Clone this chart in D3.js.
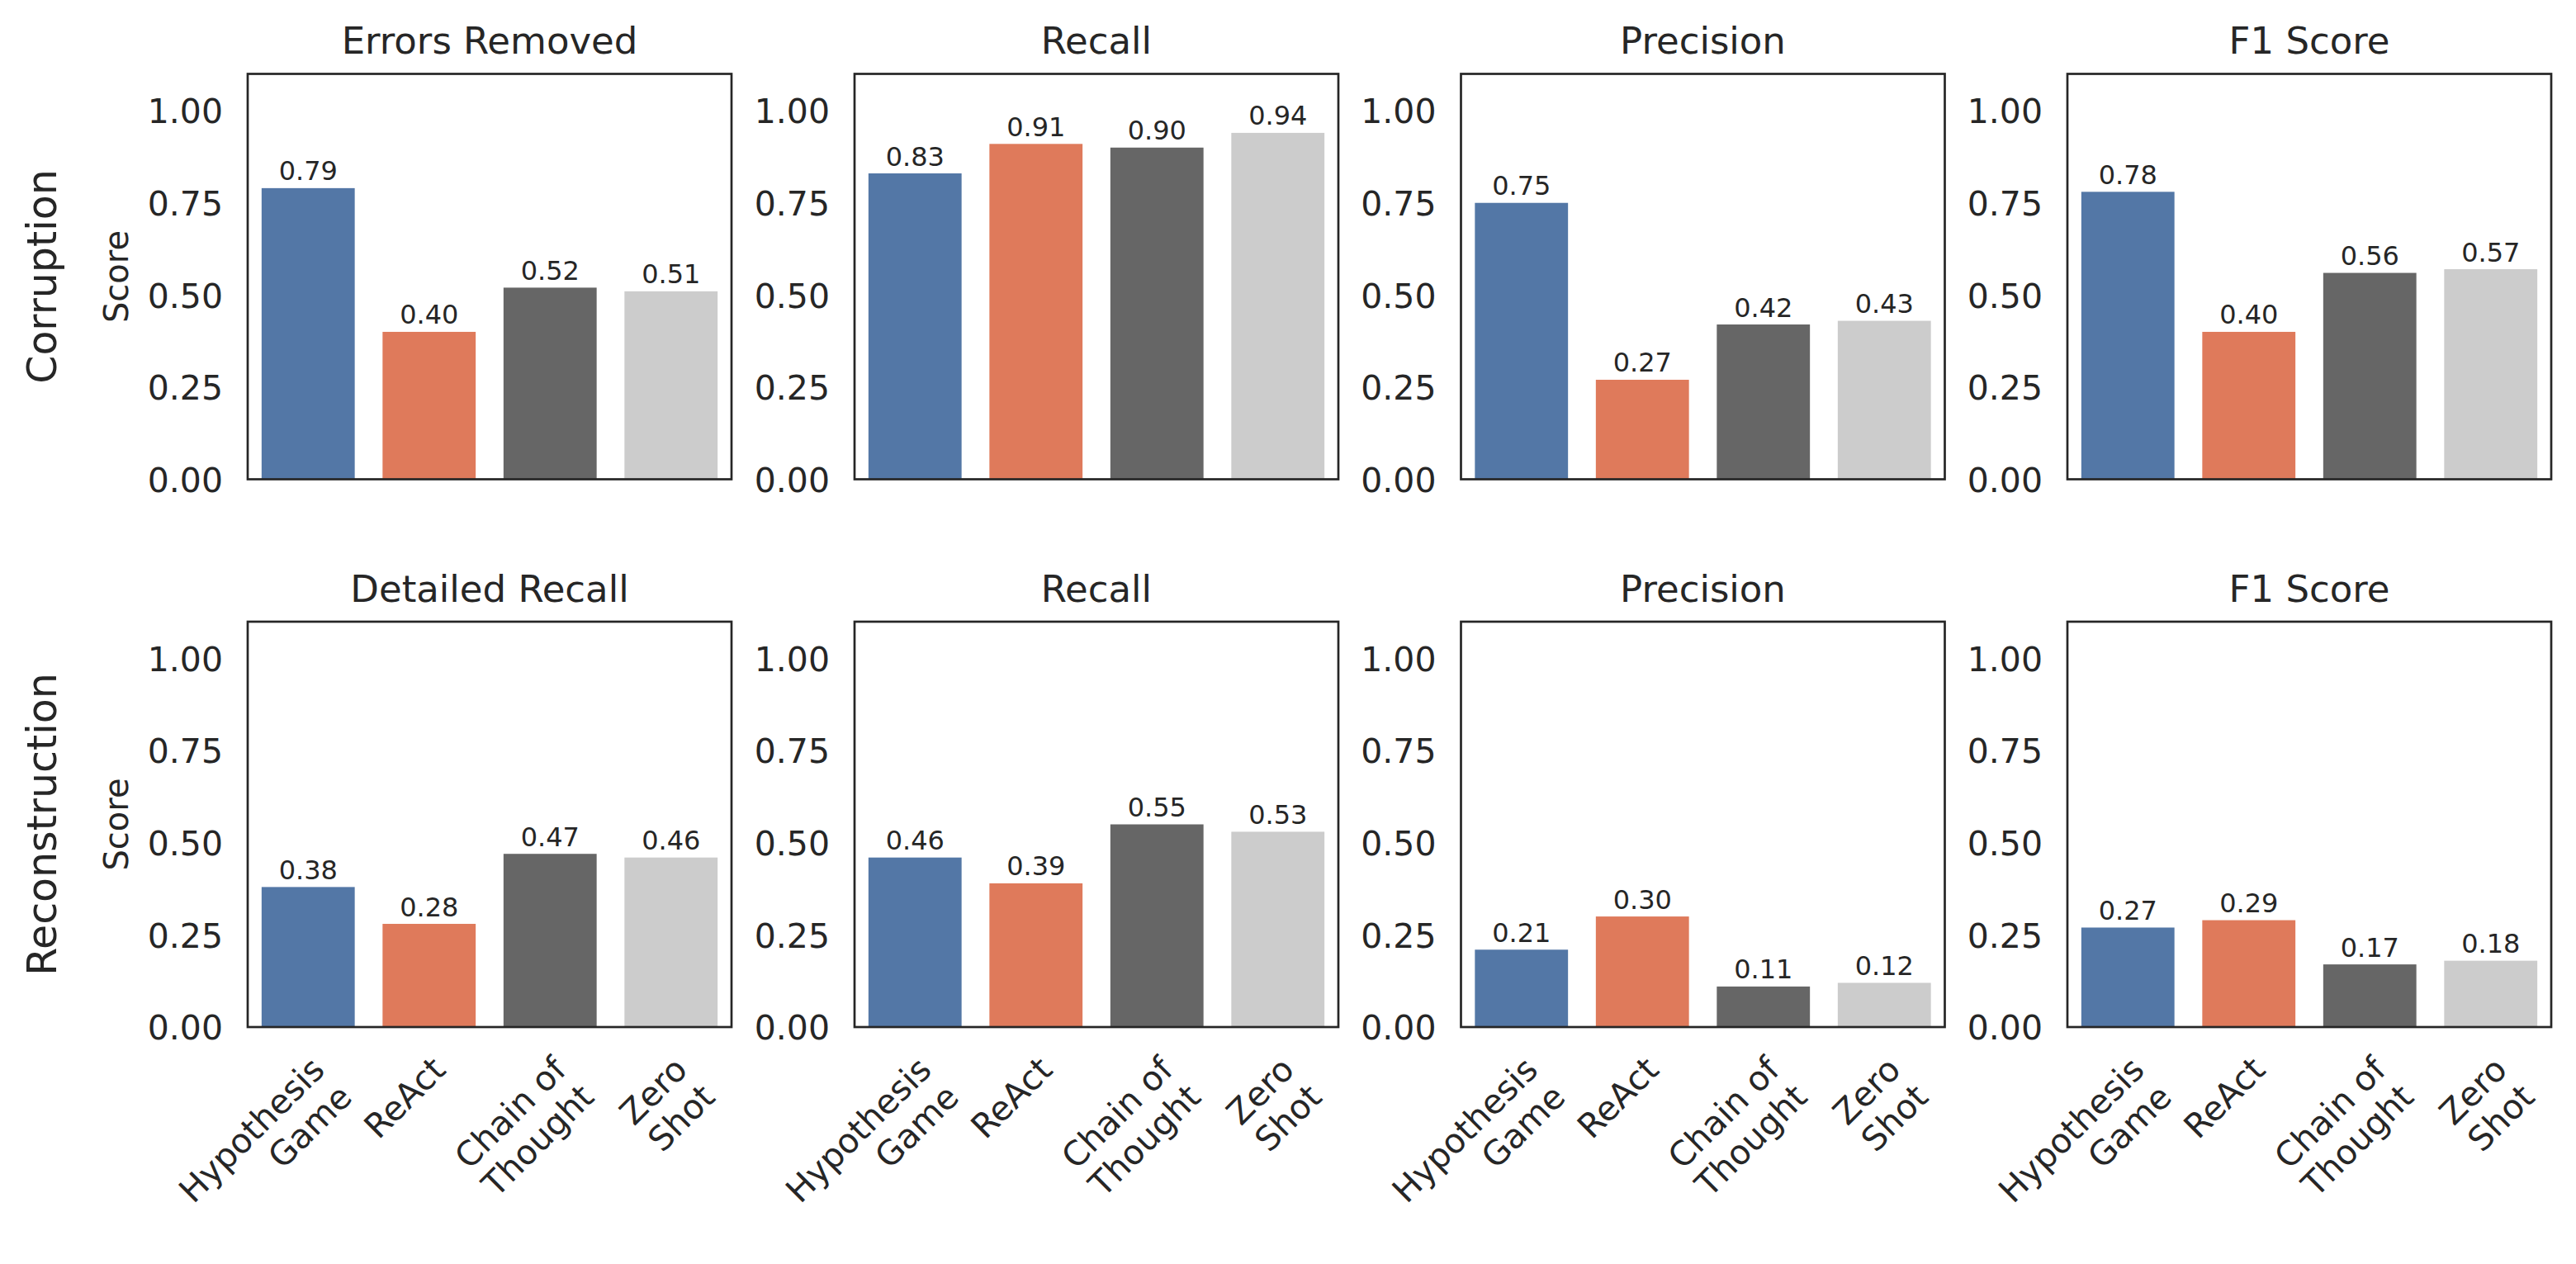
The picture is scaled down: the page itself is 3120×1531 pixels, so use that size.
<!DOCTYPE html>
<html>
<head>
<meta charset="utf-8">
<script src="https://cdn.jsdelivr.net/npm/d3@7"></script>
<style>
    body { margin: 0; background: #ffffff; }
    text { font-family: "DejaVu Sans", sans-serif; fill: #262626; }
</style>
</head>
<body>
<div id="chart"></div>
<script>
// methods on the x axis (tick labels are split on "\n")
const methods = ["Hypothesis\nGame", "ReAct", "Chain of\nThought", "Zero\nShot"];
const method_colors = ["#5377a6", "#df7a5b", "#666666", "#cccccc"];

const row_names = ["Corruption", "Reconstruction"];
const corruption_titles = ["Errors Removed", "Recall", "Precision", "F1 Score"];
const reconstruction_titles = ["Detailed Recall", "Recall", "Precision", "F1 Score"];

// one array per panel, in the order of methods
const corruption_errors_removed = [0.79, 0.40, 0.52, 0.51];
const corruption_recall = [0.83, 0.91, 0.90, 0.94];
const corruption_precision = [0.75, 0.27, 0.42, 0.43];
const corruption_f1 = [0.78, 0.40, 0.56, 0.57];
const reconstruction_detailed_recall = [0.38, 0.28, 0.47, 0.46];
const reconstruction_recall = [0.46, 0.39, 0.55, 0.53];
const reconstruction_precision = [0.21, 0.30, 0.11, 0.12];
const reconstruction_f1 = [0.27, 0.29, 0.17, 0.18];

const y_ticks = [0, 0.25, 0.5, 0.75, 1.0];

const panels = [
    [corruption_errors_removed, corruption_recall, corruption_precision, corruption_f1],
    [reconstruction_detailed_recall, reconstruction_recall, reconstruction_precision, reconstruction_f1]
];
const titles = [corruption_titles, reconstruction_titles];

const W = 3120, H = 1531;
const col_left = [300, 1035, 1769.5, 2504];
const row_top = [89.5, 753];
const pw = 586, ph = 491;

const svg = d3.select("#chart").append("svg")
    .attr("width", W)
    .attr("height", H);

function draw_panel(row, col) {
    let values = panels[row][col];
    let left = col_left[col], top = row_top[row];
    let bottom = top + ph;

    let x = d3.scaleBand()
        .domain(methods)
        .range([left, left + pw])
        .paddingInner(0.23)
        .paddingOuter(0.115);
    let y = d3.scaleLinear()
        .domain([0, 1.1])
        .range([bottom, top]);

    let g = svg.append("g").attr("class", "panel");

    // bars
    g.selectAll(".bar")
        .data(values)
        .enter().append("rect")
        .attr("class", "bar")
        .attr("x", function(d, i) { return x(methods[i]); })
        .attr("width", x.bandwidth())
        .attr("y", function(d) { return y(d); })
        .attr("height", function(d) { return y(0) - y(d); })
        .style("fill", function(d, i) { return method_colors[i]; });

    // value labels
    g.selectAll(".val")
        .data(values)
        .enter().append("text")
        .attr("class", "val")
        .attr("x", function(d, i) { return x(methods[i]) + x.bandwidth() / 2; })
        .attr("y", function(d) { return y(d) - 9.5; })
        .attr("text-anchor", "middle")
        .style("font-size", "32px")
        .text(function(d) { return d3.format(".2f")(d); });

    // y axis, drawn with d3.axisLeft but with no tick lines
    let yaxis = g.append("g")
        .attr("transform", "translate(" + left + ",0)")
        .call(d3.axisLeft(y).tickValues(y_ticks).tickFormat(d3.format(".2f")).tickSize(0).tickPadding(30));
    yaxis.select(".domain").remove();
    yaxis.selectAll("text")
        .style("font-size", "41px")
        .style("font-family", "DejaVu Sans")
        .attr("fill", "#262626")
        .attr("dy", "0.36em");

    // frame
    g.append("rect")
        .attr("x", left)
        .attr("y", top)
        .attr("width", pw)
        .attr("height", ph)
        .style("fill", "none")
        .style("stroke", "#262626")
        .style("stroke-width", 2.7);

    // title
    g.append("text")
        .attr("x", left + pw / 2)
        .attr("y", top - 24.5)
        .attr("text-anchor", "middle")
        .style("font-size", "45px")
        .text(titles[row][col]);

    if (col === 0) {
        g.append("text")
            .attr("transform", "translate(155," + (top + ph / 2) + ") rotate(-90)")
            .attr("text-anchor", "middle")
            .style("font-size", "40px")
            .text("Score");
        g.append("text")
            .attr("transform", "translate(68," + (top + ph / 2) + ") rotate(-90)")
            .attr("text-anchor", "middle")
            .style("font-size", "49px")
            .text(row_names[row]);
    }

    // rotated category labels on the bottom row only
    if (row === 1) {
        let fs = 41;
        methods.forEach(function(m) {
            let cx = x(m) + x.bandwidth() / 2;
            let t = g.append("g")
                .attr("transform", "translate(" + cx + "," + (bottom + 32) + ") rotate(-45)")
                .append("text")
                .attr("text-anchor", "end")
                .style("font-size", fs + "px");
            m.split("\n").forEach(function(line, i) {
                t.append("tspan")
                    .attr("x", 0)
                    .attr("y", 0.76 * fs + i * 1.148 * fs)
                    .text(line);
            });
        });
    }
}

for (let r = 0; r < 2; r++) {
    for (let c = 0; c < 4; c++) {
        draw_panel(r, c);
    }
}
</script>
</body>
</html>
